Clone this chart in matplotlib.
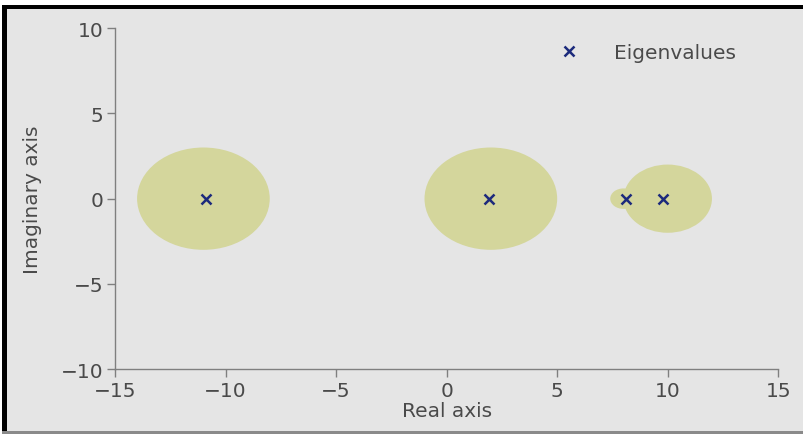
import matplotlib
matplotlib.use("Agg")
import matplotlib.pyplot as plt
from matplotlib.patches import Circle, Rectangle

# Gershgorin discs: centers and radii
disc_centers = [-11.0, 2.0, 8.0, 10.0]
disc_radii = [3.0, 3.0, 0.6, 2.0]
# eigenvalues (real, imag)
eig_real = [-10.9, 1.9, 8.1, 9.8]
eig_imag = [0.0, 0.0, 0.0, 0.0]

bg = "#e5e5e5"
fs = 14.5
fig = plt.figure(figsize=(8.04, 4.35), dpi=100, facecolor=bg)
ax = fig.add_axes([0.143, 0.149, 0.825, 0.784])
ax.set_facecolor(bg)

for c, r in zip(disc_centers, disc_radii):
    ax.add_patch(Circle((c, 0), r, facecolor="#d4d69c", edgecolor="none", zorder=1))

ax.plot(eig_real, eig_imag, linestyle="none", marker="x", color="#1c2a7c",
        markersize=7, markeredgewidth=1.8, label="Eigenvalues", zorder=3)

ax.set_xlim(-15, 15)
ax.set_ylim(-10, 10)
ax.set_xticks([-15, -10, -5, 0, 5, 10, 15])
ax.set_yticks([-10, -5, 0, 5, 10])

for s in ["top", "right"]:
    ax.spines[s].set_visible(False)
for s in ["left", "bottom"]:
    ax.spines[s].set_color("#7f7f7f")
    ax.spines[s].set_linewidth(1.0)
ax.tick_params(colors="#7f7f7f", labelcolor="#4a4a4a", labelsize=fs, length=6, width=1.0, pad=2.5)
ax.set_xlabel("Real axis", fontsize=fs, color="#4a4a4a", labelpad=1)
ax.set_ylabel("Imaginary axis", fontsize=fs, color="#4a4a4a", labelpad=13)

leg = ax.legend(loc="upper left", bbox_to_anchor=(0.65, 0.979), frameon=False,
                fontsize=fs, labelcolor="#4a4a4a",
                handlelength=1.5, handletextpad=1.45, borderaxespad=0.0)

# screenshot frame
W, H = 804, 435
def px_rect(x0, y0, w, h, color):
    fig.patches.append(Rectangle((x0 / W, 1 - (y0 + h) / H), w / W, h / H,
                                 transform=fig.transFigure, facecolor=color,
                                 edgecolor="none", zorder=10))
px_rect(0, 0, W, 6, "white")
px_rect(0, 0, 2, H, "white")
px_rect(2, 6, W - 2, 4, "black")
px_rect(2, 6, 5, H - 6, "black")
px_rect(2, 432, W - 2, 3, "#8a8a8a")

fig.savefig("out.png", dpi=100, facecolor=bg)
